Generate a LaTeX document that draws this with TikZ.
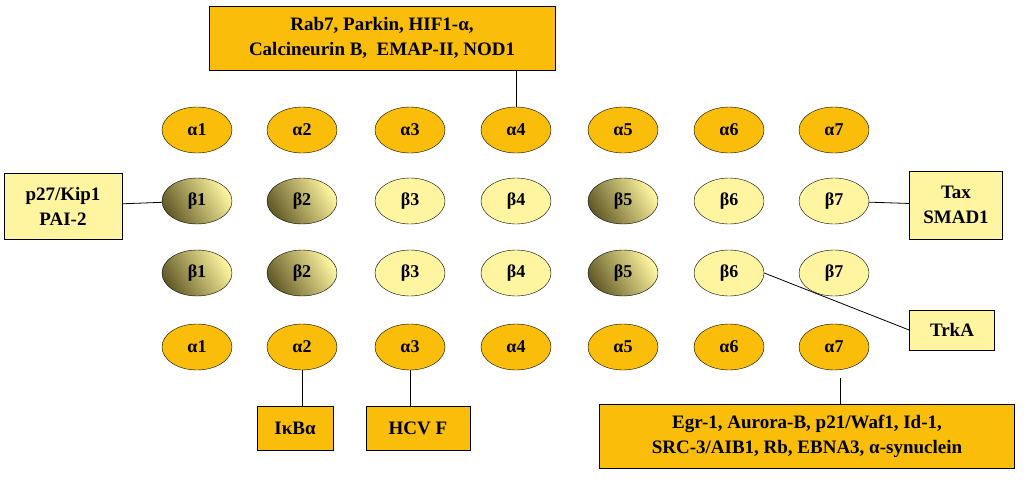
\documentclass[tikz,border=0pt]{standalone}
\usepackage{fontspec}
\setmainfont{Liberation Serif}
\definecolor{alphafill}{RGB}{250, 190, 10}
\definecolor{betafill}{RGB}{255, 245, 160}
\definecolor{betadark}{RGB}{100, 92, 40}
\tikzset{
  sub/.style={ellipse, draw=black, minimum width=70pt, minimum height=46pt, font=\bfseries\fontsize{18}{20}\selectfont, inner sep=0pt},
  asub/.style={sub, fill=alphafill},
  bsub/.style={sub, fill=betafill},
  dsub/.style={sub, left color=betadark, right color=betafill, shading angle=120},
  abox/.style={draw=black, thick, fill=alphafill, align=center, font=\bfseries\fontsize{19}{25}\selectfont},
  bbox/.style={draw=black, thick, fill=betafill, align=center, font=\bfseries\fontsize{19}{25}\selectfont}
}
\usetikzlibrary{shapes.geometric}
\begin{document}
\begin{tikzpicture}[x=1pt, y=-1pt]
\useasboundingbox (0,0) rectangle (1024,479);
% outer alpha rings
\foreach \i/\x in {1/197, 2/302, 3/410, 4/516, 5/623, 6/729, 7/834} {
  \node[asub] (at\i) at (\x,130) {α\i};
  \node[asub] (ab\i) at (\x,347) {α\i};
}
% inner beta rings
\foreach \i/\x/\s in {1/197/dsub, 2/302/dsub, 3/410/bsub, 4/516/bsub, 5/623/dsub, 6/729/bsub, 7/834/bsub} {
  \node[\s] (bt\i) at (\x,201) {β\i};
  \node[\s] (bb\i) at (\x,273) {β\i};
}
% interacting proteins
\node[abox, minimum width=346pt, minimum height=64pt] (top) at (382,38) {Rab7, Parkin, HIF1-α,\\Calcineurin B,\ \ EMAP-II, NOD1};
\node[bbox, minimum width=118pt, minimum height=66pt] (kip) at (63,206) {p27/Kip1\\PAI-2};
\node[bbox, minimum width=93pt, minimum height=68pt] (tax) at (956,205) {Tax\\SMAD1};
\node[bbox, minimum width=85pt, minimum height=40pt] (trka) at (952,330) {TrkA};
\node[abox, minimum width=76pt, minimum height=44pt] (ikb) at (295,428) {IκBα};
\node[abox, minimum width=104pt, minimum height=44pt] (hcv) at (418,428) {HCV F};
\node[abox, minimum width=415pt, minimum height=64pt] (egr) at (807,436) {Egr-1, Aurora-B, p21/Waf1, Id-1,\\SRC-3/AIB1, Rb, EBNA3, α-synuclein};
\draw[thick] (top.south -| at4) -- (at4);
\draw[thick] (kip) -- (bt1);
\draw[thick] (tax) -- (bt7);
\draw[thick] (bb6.east) -- (trka.west);
\draw[thick] (ab2) -- (ikb.north -| ab2);
\draw[thick] (ab3) -- (hcv.north -| ab3);
\draw[thick] (ab7.south) ++(6,8) coordinate (c7) -- (egr.north -| c7);
\end{tikzpicture}
\end{document}
